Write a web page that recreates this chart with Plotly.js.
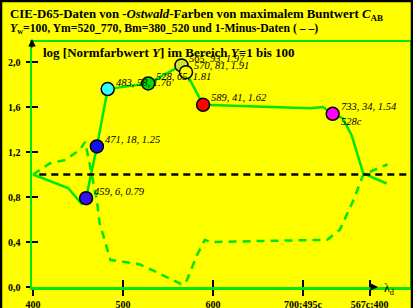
<!DOCTYPE html>
<html><head><meta charset="utf-8">
<script src="https://cdn.plot.ly/plotly-3.0.1.min.js"></script>
<style>html,body{margin:0;padding:0;background:#ffff00;}#plot{width:413px;height:308px;}</style>
</head><body><div id="plot"></div>
<script>
// Solid line: Ostwald colours (dominant wavelength, log Y)
var solidX = [400, 439, 454, 459, 471, 483, 528, 565, 570, 589, 708, 722, 733, 744, 754, 761, 767, 793];
var solidY = [1.00, 0.88, 0.74, 0.79, 1.25, 1.76, 1.81, 1.97, 1.91, 1.62, 1.59, 1.60, 1.54, 1.50, 1.35, 1.16, 1.01, 0.92];
// Dashed line: 1-minus data
var dashX = [400, 419, 436, 452, 458, 463, 471, 474, 486, 504, 519, 538, 556, 566, 571, 582, 591, 597, 727, 741, 756, 767, 794];
var dashY = [1.00, 1.10, 1.13, 1.22, 1.29, 1.08, 0.77, 0.57, 0.24, 0.22, 0.20, 0.13, 0.06, 0.02, 0.06, 0.28, 0.42, 0.40, 0.42, 0.51, 0.77, 1.00, 1.09];
// Marked points
var ptLambda = [459, 471, 483, 528, 565, 570, 589, 733];
var ptYval = [6, 18, 58, 65, 93, 81, 41, 34];
var ptLogY = [0.79, 1.25, 1.76, 1.81, 1.97, 1.91, 1.62, 1.54];
var ptColor = ['#3311ee', '#1111ee', '#33ffff', '#00dd00', '#cce633', '#ffff00', '#ff0000', '#ff00ff'];
var extraLabel = '528c';
// Axis ticks
var xTickVals = [400, 500, 600, 700, 774];
var xTickText = ['400', '500', '600', '700;495c', '567c;400'];
var yTickVals = [0, 0.4, 0.8, 1.2, 1.6, 2.0];
var yTickText = ['0,0', '0,4', '0,8', '1,2', '1,6', '2,0'];

var GREEN = '#00e600';
var xr = [398.9, 818.9], yr = [0, 2.178];
var serif = 'Liberation Serif, Times New Roman, serif';

var traces = [
  {x: solidX, y: solidY, mode: 'lines', line: {color: GREEN, width: 2.5}, hoverinfo: 'skip'},
  {x: ptLambda, y: ptLogY, mode: 'markers',
   marker: {size: 13, color: ptColor, line: {color: '#000', width: 1.5}}, hoverinfo: 'skip'},
  {x: dashX, y: dashY, xaxis: 'x2', yaxis: 'y2', mode: 'lines',
   line: {color: GREEN, width: 2.5, dash: '8px,6px'}, hoverinfo: 'skip'}
];

var px = function (p) { return (p - 32) / 378; };
var py = function (p) { return (287 - p) / 245; };

var anns = [
  {xref: 'paper', yref: 'paper', x: px(8), y: py(15), xanchor: 'left', yanchor: 'middle', showarrow: false,
   text: 'CIE-D65-Daten von -<i>Ostwald</i>-Farben von maximalem Buntwert <i>C</i><sub>AB</sub>',
   font: {family: serif, size: 12.8, color: '#000', weight: 'bold'}},
  {xref: 'paper', yref: 'paper', x: px(8), y: py(29), xanchor: 'left', yanchor: 'middle', showarrow: false,
   text: '<i>Y</i><sub>w</sub>=100, Ym=520_770, Bm=380_520 und 1-Minus-Daten ( \u2013 \u2013)',
   font: {family: serif, size: 11.7, color: '#000', weight: 'bold'}},
  {xref: 'paper', yref: 'paper', x: px(41), y: py(52), xanchor: 'left', yanchor: 'middle', showarrow: false,
   text: 'log [Normfarbwert <i>Y</i>] im Bereich <i>Y</i>=1 bis 100',
   font: {family: serif, size: 13, color: '#000', weight: 'bold'}},
  {xref: 'paper', yref: 'paper', x: px(32), y: py(39), ax: 0, ay: 10, showarrow: true, arrowhead: 2, arrowsize: 1,
   arrowwidth: 1.5, arrowcolor: '#000', text: ''},
  {xref: 'paper', yref: 'paper', x: px(378), y: py(287), ax: -9, ay: 0, showarrow: true, arrowhead: 2, arrowsize: 1,
   arrowwidth: 1.5, arrowcolor: '#000', text: ''},
  {xref: 'paper', yref: 'paper', x: px(382), y: py(289), xanchor: 'left', yanchor: 'middle', showarrow: false,
   text: '\u03bb<sub>d</sub>', font: {family: serif, size: 12, color: '#000'}}
];
for (var i = 0; i < ptLambda.length; i++) {
  anns.push({xref: 'x', yref: 'y', x: ptLambda[i], y: ptLogY[i], xanchor: 'left', yanchor: 'middle',
    xshift: 6, yshift: 7, showarrow: false,
    text: '<i>' + ptLambda[i] + ', ' + ptYval[i] + ', ' + ptLogY[i].toFixed(2) + '</i>',
    font: {family: serif, size: 10.5, color: '#000'}});
}
anns.push({xref: 'x', yref: 'y', x: ptLambda[7], y: ptLogY[7], xanchor: 'left', yanchor: 'middle',
  xshift: 6, yshift: -8, showarrow: false, text: '<i>' + extraLabel + '</i>',
  font: {family: serif, size: 10.5, color: '#000'}});

var layout = {
  width: 413, height: 308,
  margin: {l: 32, r: 3, t: 42, b: 21},
  paper_bgcolor: '#ffff00', plot_bgcolor: '#ffff00',
  showlegend: false,
  font: {family: serif, color: '#000'},
  xaxis: {range: xr, tickvals: xTickVals, ticktext: xTickText, ticks: 'outside', ticklen: 6, tickwidth: 2, tickcolor: '#000',
    tickfont: {family: serif, size: 10, color: '#000', weight: 'bold'}, showgrid: false, zeroline: false,
    showline: true, mirror: true, linecolor: GREEN, linewidth: 2.5},
  yaxis: {range: yr, tickvals: yTickVals, ticktext: yTickText, ticks: 'outside', ticklen: 4, tickwidth: 2, tickcolor: '#000',
    ticklabelstandoff: 3,
    tickfont: {family: serif, size: 10, color: '#000', weight: 'bold'}, showgrid: false, zeroline: false,
    showline: true, mirror: true, linecolor: GREEN, linewidth: 2.5},
  xaxis2: {range: xr, overlaying: 'x', anchor: 'y2', tickvals: xTickVals, showticklabels: false, ticks: 'inside', ticklen: 7,
    tickwidth: 2, tickcolor: '#000', showgrid: false, zeroline: false, showline: false},
  yaxis2: {range: yr, overlaying: 'y', anchor: 'x2', tickvals: yTickVals, showticklabels: false, ticks: 'inside', ticklen: 6,
    tickwidth: 2, tickcolor: '#000', showgrid: false, zeroline: false, showline: false},
  shapes: [
    {type: 'line', xref: 'x', yref: 'y', x0: 407, x1: xr[1], y0: 1, y1: 1, line: {color: '#000', width: 2.5, dash: '7px,5px'}},
    {type: 'rect', xref: 'paper', yref: 'paper', x0: px(1), x1: px(412), y0: py(1), y1: py(312), line: {color: '#000', width: 2.5}}
  ],
  annotations: anns
};
Plotly.newPlot('plot', traces, layout, {displayModeBar: false, staticPlot: true});
</script></body></html>
